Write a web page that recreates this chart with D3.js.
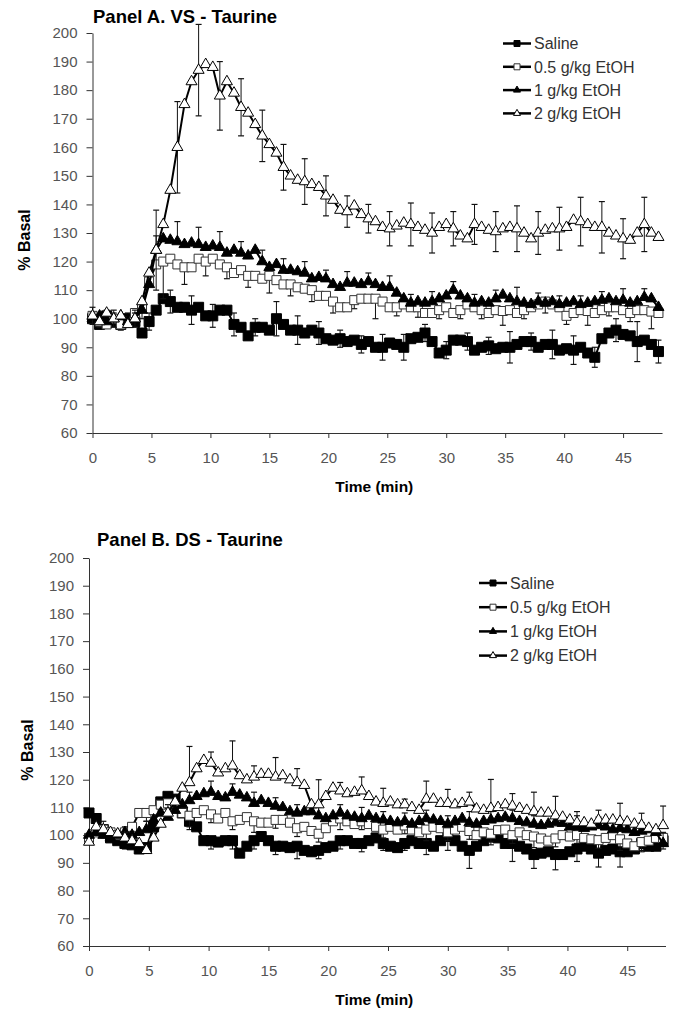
<!DOCTYPE html>
<html>
<head>
<meta charset="utf-8">
<script src="https://cdn.jsdelivr.net/npm/d3@7"></script>
<style>
  body { margin: 0; background: #fff; }
  svg { display: block; font-family: "Liberation Sans", Arial, sans-serif; }
  .tick text { font-size: 15px; fill: #555; }
  .tick line, .domain { stroke: #333; }
</style>
</head>
<body>
<svg id="chart" width="680" height="1012"></svg>
<script>
// samples every 0.6 min, error bars drawn on every 3rd sample
var sampleStep = 0.6;
var barEvery = 3;

var seriesNames = ["Saline", "0.5 g/kg EtOH", "1 g/kg EtOH", "2 g/kg EtOH"];
var xTicks = [0, 5, 10, 15, 20, 25, 30, 35, 40, 45];
var yTicks = [60, 70, 80, 90, 100, 110, 120, 130, 140, 150, 160, 170, 180, 190, 200];

// Panel A. VS - Taurine (% basal)
var aSal = [100,98,101,99,98,100,99,95,99,103,
  107,106,104,104,103,104,101,101,103,103,
  98,97,94,97,97,96,100,98,96,96,
  95,96,95,93,92.5,93,92,92.5,91,92,
  90,90,91.5,91,90,93,93.5,95,92,88,
  89,92.5,92.5,92,89,90,90.5,89.5,90,90,
  91,92,92,90,91,91,89,89.5,89,90,
  88,86.5,93,95,96,94.5,94,92,92.5,91,88.5];
var aLow = [101,99,98,100,98,99,102,104,113,119,
  120,121,119,118,118,121,120,121,119,118,
  116,117,115,115,114,115,113.5,112,112,111,
  110.5,110,108,108,106,104,104,106.5,107,107,
  107,106,104,104,105,104,104,102,102,103,
  104,102,103,105,104,103,102,103,102.7,103,
  102,103,104,105,106,105,104,101,102,103,
  102.7,102,103,104,104,103,102,103,103,102.5,102];
var aMid = [100,101,99,100,101,99,100,103,112,124,
  128,127.5,127,126,126.5,126,125,125.5,125,123,
  124,123,122,124,120,118,119,117,117,116.5,
  116,114,114.5,114,112,111,112.5,112.5,112,113,
  112,111,111,109,107,105.5,106,105.5,106,107,
  108,110,108,107,105.5,106,105.5,107,108.3,107,
  106,105.5,105,106,105.5,106,105,105.5,106,105,
  105.5,106,106.5,107,106,106.5,105.5,106,107.5,107,104];
var aHigh = [101,99,102,100,101,98,100,106,116,124,
  133,145,160,175,183,187,189,188,178,183,
  179,174,172,168,164,161,158,153,150,148.5,
  148,147,146,143,141.5,138,137.5,139.5,136.5,135,
  134,132,131.5,132.5,133.5,133,132,131,130,132,
  133,131.5,129,128,133,132,131,130.5,131.5,132,
  131.5,130,128,130,131,131.5,131.5,132,134.5,134,
  133,132,132,130,129,128,127.5,130,133,130,128.5];

// Panel A error bars (SEM), one per bar position
var aSalErr  = [2,2,3,4,5,4,4,3,6,5, 4,3,3,4.5,4.5,3,3,3,3,5.5, 3,5,5,3.5,4,7,4];
var aLowErr  = [2,2,4,13,6,5,4,4,6,4, 4,4,3,7,3,3.5,3,3,3,5, 3,4,3,5,3,3,6];
var aMidErr  = [2,2,2,5,7,6,5.5,4,4,4, 4,3,4,3,4,3,3.5,3,3,3, 5,3,3,3,3,4,3];
var aHighErr = [3,3,3,14,16,16,12,10,9,8, 8,7,5.5,5,6,7.5,7,6,7,7, 8,7.5,7.5,8.5,9,7,9.5];

// Panel B. DS - Taurine (% basal)
var bSal = [108,106,102,99,98,97,96.5,95,95.5,103,
  112,114,113,108,105,103,98,98,97.5,98,
  98,93.5,96,98,99.5,98,96,96,95.5,96,
  94.5,94,94.5,95.5,96,98,98,97,97,98,
  99,97,96,95.5,97,98,97,97,96,98,
  99.5,98,96,94.5,96,98,99.5,99,97,97,
  96,95,93,93.5,94,93,93,94,95,96,
  95,93.5,94.5,95,94,94,95,97,96,96,98];
var bLow = [99,101,102,101,100,101,103,108,108,109,
  111,111.5,110,108,107,108,109,107.5,106,108,
  105,105.5,106.5,105,104.5,104.5,105.5,105.5,104.5,102.5,
  103,101.5,100.5,102.5,105,106,105,104,105,104,
  103,102,103,102,103.5,102,101,102,103,102.5,
  101,102,103,101.5,100,101,100.5,101.8,102,100,
  101,100,99.5,98.8,98,98.8,100,99.5,100,99,
  98.5,98.2,99,100,98.5,97,96,97.5,98,99,99];
var bMid = [100,101,100,99,100,101,100,101,102,105.5,
  108,106.5,109,111,112.5,114,115,115.5,114,113.5,
  115.5,114.5,113.5,111.5,112.5,111.5,110.5,110,108.5,108,
  108.5,108.5,107,106,107,108,107,106.5,106,107,
  106,105.5,105,104.5,105,104,105,106,105.5,105,
  104,105,106,104.5,104,105,105.5,106,106.5,106,
  105,104.5,104,103.5,104,104.5,104.3,103,103,102.5,
  103,103.5,103,102,102.5,102,101,101.5,102,101,97];
var bHigh = [97.5,103,102,101,100.5,99,98,97,94.5,99,
  104,108,112,117,119,124,127,126,122.5,124,
  125,121.5,120,121,122,122,121,121.5,120,119,
  118,111,111,114,117,116,115,115.5,116,114,
  112,111.5,112,111,111,110,109,113,113,111.5,
  111.5,111,111.5,112,109.5,109,109.7,110,111,110.5,
  109.7,109,108.5,108,108,107,106.5,105.5,104.5,104.5,
  104,105.5,105.5,105.5,105,104.8,104,103.6,102.5,102,103.5];

var bSalErr  = [3,2,2,3,3,3,3,3,3,4.5, 3,3,3,2.5,2.5,4,5,6.5,3,6.5, 5,5.5,4.5,5,5.5,3,3];
var bLowErr  = [2,2,3,3,4,3,3,4,3,3, 3,4,3,3,3,4,3,3,3,3, 4,3,3,3,4,3,3];
var bMidErr  = [2,2,3,3,3,4,3,4,3,3, 3,3,4,3,3,3,3,4,3,3, 3,3,4,3,3,3,4];
var bHighErr = [3,2,2,3,13,4,9,4,7,5, 9,3,5,5.4,2,6.5,5,3.5,10.4,4.5, 7,7,4,3.5,6.5,4.3,7];

var markerStyles = [
  {shape: "square",   fill: "#000", stroke: "#000", size: 10},
  {shape: "square",   fill: "#fff", stroke: "#333", size: 9},
  {shape: "triangle", fill: "#000", stroke: "#000", size: 11},
  {shape: "triangle", fill: "#fff", stroke: "#000", size: 11}
];

var svg = d3.select("#chart");

function markerPath(shape, size) {
  if (shape == "square") return d3.symbol(d3.symbolSquare, size * size)();
  return d3.symbol(d3.symbolTriangle, 0.433 * size * size)();
}

function drawPanel(p) {
  var x = d3.scaleLinear().domain([0, p.xMax]).range([p.left, p.right]);
  var y = d3.scaleLinear().domain([60, 200]).range([p.bottom, p.top]);

  svg.append("g")
      .attr("transform", "translate(0," + p.bottom + ")")
      .call(d3.axisBottom(x).tickValues(xTicks).tickSize(5).tickPadding(14).tickSizeOuter(0));

  svg.append("g")
      .attr("transform", "translate(" + p.left + ",0)")
      .call(d3.axisLeft(y).tickValues(yTicks).tickSize(6).tickPadding(9).tickSizeOuter(0));

  // titles
  svg.append("text")
      .attr("x", p.titleX).attr("y", p.titleY)
      .attr("font-size", 18.5).attr("font-weight", "bold")
      .text(p.title);

  svg.append("text")
      .attr("x", (p.left + p.right) / 2 - 3).attr("y", p.bottom + 59)
      .attr("text-anchor", "middle")
      .attr("font-size", 15.5).attr("font-weight", "bold")
      .text("Time (min)");

  svg.append("text")
      .attr("transform", "translate(" + p.yLabelX + "," + p.yLabelY + ") rotate(-90)")
      .attr("text-anchor", "middle").attr("dy", "0.35em")
      .attr("font-size", 16).attr("font-weight", "bold")
      .text("% Basal");

  var line = d3.line()
      .x(function(d, i) { return x(i * sampleStep); })
      .y(function(d) { return y(d); });

  p.series.forEach(function(vals, s) {
    var st = markerStyles[s];
    var g = svg.append("g");

    // error bars
    var bars = p.errors[s].map(function(e, k) {
      var i = p.errOffset[s] + k * barEvery;
      return {t: i * sampleStep, v: vals[i], e: e};
    });
    var dir = p.errDir[s];
    bars.forEach(function(b) {
      var bx = x(b.t);
      var ends = [];
      if (dir == "up" || dir == "both") ends.push(b.v + b.e);
      if (dir == "down" || dir == "both") ends.push(b.v - b.e);
      ends.forEach(function(ev) {
        g.append("line")
            .attr("x1", bx).attr("x2", bx)
            .attr("y1", y(b.v)).attr("y2", y(ev))
            .attr("stroke", "#111").attr("stroke-width", 1);
        g.append("line")
            .attr("x1", bx - 3).attr("x2", bx + 3)
            .attr("y1", y(ev)).attr("y2", y(ev))
            .attr("stroke", "#111").attr("stroke-width", 1.2);
      });
    });

    g.append("path")
        .datum(vals)
        .attr("d", line)
        .attr("fill", "none")
        .attr("stroke", "#000")
        .attr("stroke-width", 2);

    g.selectAll(".pt")
        .data(vals)
        .enter().append("path")
        .attr("transform", function(d, i) { return "translate(" + x(i * sampleStep) + "," + y(d) + ")"; })
        .attr("d", markerPath(st.shape, st.size))
        .attr("fill", st.fill)
        .attr("stroke", st.stroke)
        .attr("stroke-width", 1);
  });

  // legend
  seriesNames.forEach(function(name, s) {
    var st = markerStyles[s];
    var ly = p.legendY + s * p.legendGap;
    svg.append("line")
        .attr("x1", p.legendX).attr("x2", p.legendX + 28)
        .attr("y1", ly).attr("y2", ly)
        .attr("stroke", "#000").attr("stroke-width", 2.5);
    svg.append("path")
        .attr("transform", "translate(" + (p.legendX + 14) + "," + ly + ")")
        .attr("d", markerPath(st.shape, st.shape == "square" ? 6 : 7))
        .attr("fill", st.fill).attr("stroke", st.stroke).attr("stroke-width", 1);
    svg.append("text")
        .attr("x", p.legendX + 31).attr("y", ly).attr("dy", "0.36em")
        .attr("font-size", 16).attr("fill", "#333")
        .text(name);
  });
}

drawPanel({
  title: "Panel A. VS - Taurine", titleX: 93, titleY: 23,
  left: 92.5, right: 662, top: 33, bottom: 433, xMax: 48.3,
  yLabelX: 24, yLabelY: 240,
  series: [aSal, aLow, aMid, aHigh],
  errors: [aSalErr, aLowErr, aMidErr, aHighErr],
  errOffset: [2, 1, 0, 0],
  errDir: ["both", "down", "up", "both"],
  legendX: 503, legendY: 43.5, legendGap: 23.3
});

drawPanel({
  title: "Panel B. DS - Taurine", titleX: 97, titleY: 546,
  left: 89, right: 665.5, top: 558, bottom: 946, xMax: 48.2,
  yLabelX: 27, yLabelY: 750,
  series: [bSal, bLow, bMid, bHigh],
  errors: [bSalErr, bLowErr, bMidErr, bHighErr],
  errOffset: [2, 2, 2, 2],
  errDir: ["down", "down", "up", "up"],
  legendX: 479, legendY: 583, legendGap: 24.2
});
</script>
</body>
</html>
